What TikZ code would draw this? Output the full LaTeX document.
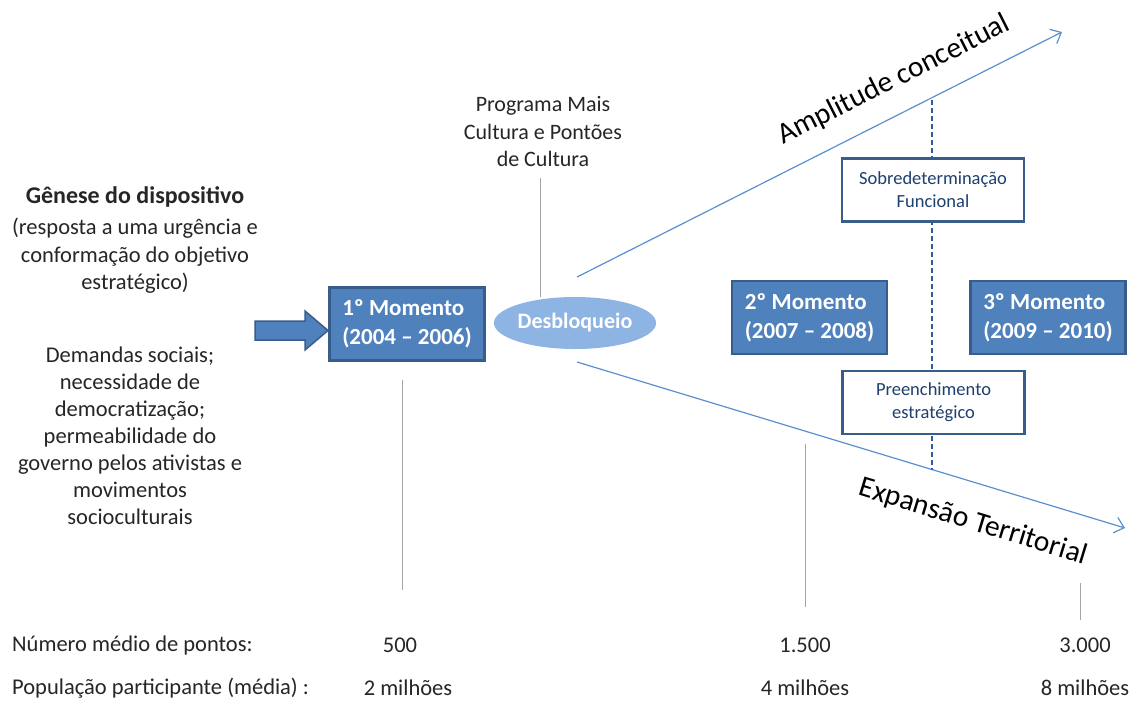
\documentclass[tikz,border=0pt]{standalone}
\usepackage{fontspec}
\setmainfont{Carlito}
\usetikzlibrary{shapes.geometric,arrows.meta}
\definecolor{boxfill}{HTML}{4F81BD}
\definecolor{boxborder}{HTML}{385D8A}
\definecolor{ellfill}{HTML}{8EB4E3}
\definecolor{axiscol}{HTML}{5B8FD0}
\definecolor{dashcol}{HTML}{2E5C9E}
\definecolor{txtdark}{HTML}{262626}
\definecolor{txtblue}{HTML}{1F3F6E}
\definecolor{graycol}{HTML}{A6A6A6}
\tikzset{
  momentbox/.style={draw=boxborder, line width=2.5pt, fill=boxfill, text=white,
    font=\fontsize{23}{29}\selectfont\bfseries, align=left, minimum width=155pt,
    minimum height=73pt, inner sep=0pt},
  whitebox/.style={draw=boxborder, line width=2.5pt, fill=white, text=txtblue,
    font=\fontsize{18.5}{23}\selectfont, align=center, minimum width=182pt,
    minimum height=63pt, inner sep=0pt},
  plaintext/.style={text=txtdark, align=center, inner sep=0pt},
  axisline/.style={draw=axiscol, line width=1.2pt, -{Straight Barb[length=9pt,width=16pt,line width=1.2pt]}},
  grayline/.style={draw=graycol, line width=0.9pt},
  dashline/.style={draw=dashcol, line width=1.6pt, dash pattern=on 5pt off 3pt},
  bottomtext/.style={text=txtdark, inner sep=0pt, font=\fontsize{22.5}{26}\selectfont}
}
\begin{document}
\begin{tikzpicture}[x=1pt,y=-1pt]
\useasboundingbox[fill=white] (0,0) rectangle (1133,702);

% left texts
\node[plaintext, font=\fontsize{24}{27}\selectfont\bfseries] (genese) at (135,197) {Gênese do dispositivo};
\node[plaintext, font=\fontsize{22.5}{27.5}\selectfont] (resposta) at (135,256) {(resposta a uma urgência e\\conformação do objetivo\\estratégico)};
\node[plaintext, font=\fontsize{22.5}{27}\selectfont] (demandas) at (130,436) {Demandas sociais;\\necessidade de\\democratização;\\permeabilidade do\\governo pelos ativistas e\\movimentos\\socioculturais};

% block arrow
\fill[boxfill, draw=boxborder, line width=1.5pt] (255,321) -- (305,321) -- (305,311) -- (328,330.5) -- (305,350) -- (305,340) -- (255,340) -- cycle;

% moment boxes
\node[momentbox] (m1) at (407,324) {1º Momento\\(2004 -- 2006)};
\node[momentbox] (m2) at (809.5,317.5) {2º Momento\\(2007 -- 2008)};
\node[momentbox] (m3) at (1048,317.5) {3º Momento\\(2009 -- 2010)};

% ellipse
\node[ellipse, fill=ellfill, minimum width=150pt, minimum height=52pt, text=white,
  font=\fontsize{22}{24}\selectfont\bfseries, inner sep=0pt] (desb) at (575,323) {Desbloqueio};

% Programa
\node[plaintext, font=\fontsize{22}{27.5}\selectfont] (prog) at (543,132) {Programa Mais\\Cultura e Pontões\\de Cultura};
\coordinate (progline) at (540,178);
\draw[grayline] (progline) -- (progline |- desb.north);

% axes
\coordinate (upstart) at (577,277);
\coordinate (upend) at (1062,32);
\coordinate (lowstart) at (577,362);
\coordinate (lowend) at (1125,528);
\draw[axisline] (upstart) -- (upend);
\draw[axisline] (lowstart) -- (lowend);
\node[rotate=26.8, font=\fontsize{29.5}{32}\selectfont, text=black, inner sep=0pt] (ampl) at (894,80) {Amplitude conceitual};
\node[rotate=-17, font=\fontsize{29.5}{32}\selectfont, text=black, inner sep=0pt] (expa) at (973,522) {Expansão Territorial};

% dashed line and white boxes
\coordinate (dtop) at (932,100);
\coordinate (dbot) at (932,470);
\draw[dashline] (dtop) -- (dbot);
\node[whitebox] (sobre) at (933,190) {Sobredeterminação\\Funcional};
\node[whitebox] (preen) at (933.5,402.5) {Preenchimento\\estratégico};

% gray vertical lines
\coordinate (g1a) at (402,380); \coordinate (g1b) at (402,590);
\coordinate (g2a) at (805,444); \coordinate (g2b) at (805,607);
\coordinate (g3a) at (1080,583); \coordinate (g3b) at (1080,620);
\draw[grayline] (g1a) -- (g1b);
\draw[grayline] (g2a) -- (g2b);
\draw[grayline] (g3a) -- (g3b);

% bottom rows
\node[bottomtext, anchor=west] (nlabel) at (12,645) {Número médio de pontos:};
\node[bottomtext] (n1) at (400,645) {500};
\node[bottomtext] (n2) at (805,645) {1.500};
\node[bottomtext] (n3) at (1085,645) {3.000};
\node[bottomtext, anchor=west] (plabel) at (12,688) {População participante (média) :};
\node[bottomtext] (p1) at (408,688) {2 milhões};
\node[bottomtext] (p2) at (805,688) {4 milhões};
\node[bottomtext] (p3) at (1085,688) {8 milhões};
\end{tikzpicture}
\end{document}
